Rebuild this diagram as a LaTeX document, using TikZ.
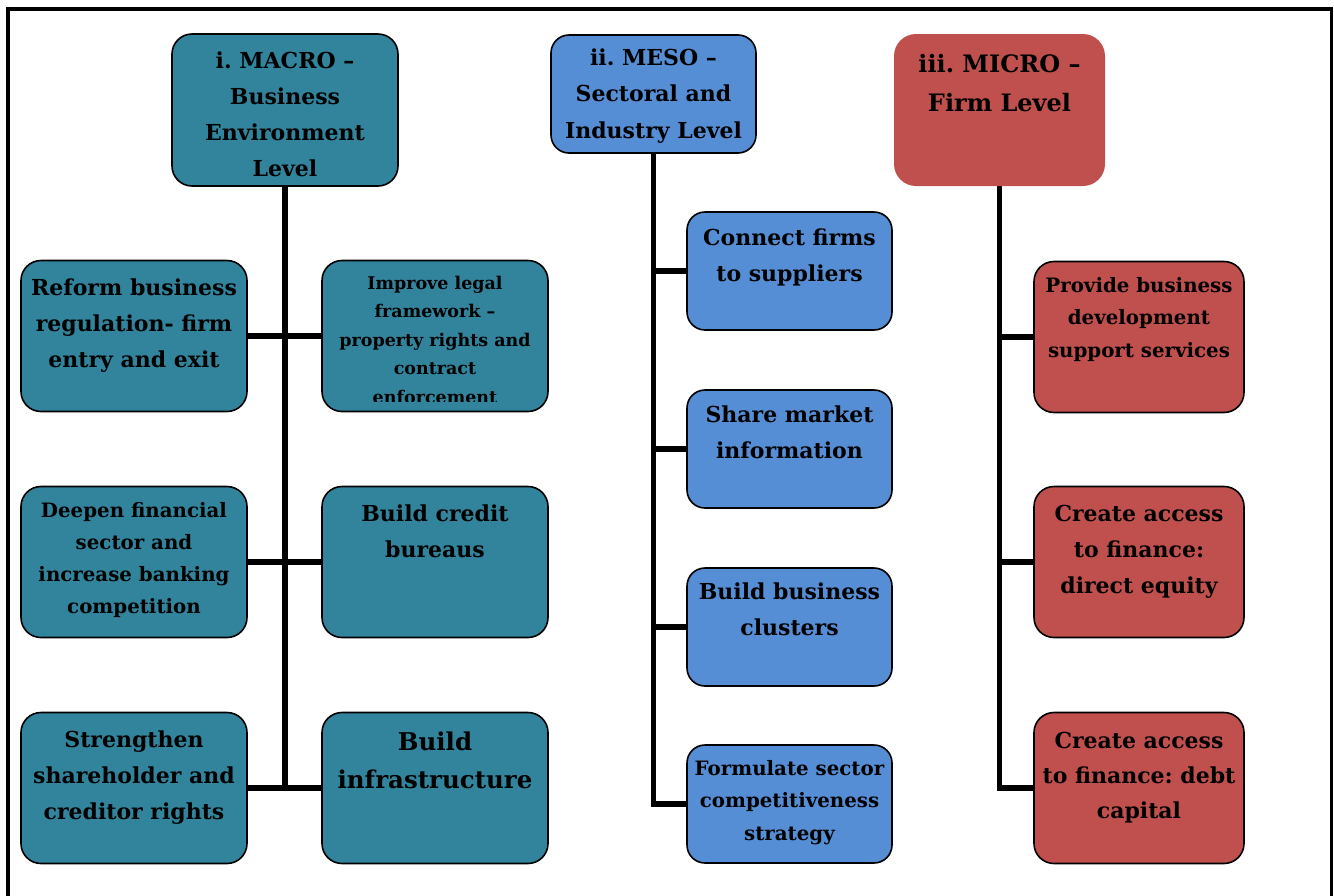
\documentclass[tikz,border=0pt]{standalone}
\usepackage{fontspec}
\setmainfont{DejaVu Serif}
\usetikzlibrary{backgrounds}
\definecolor{cteal}{HTML}{31849B}
\definecolor{cblue}{HTML}{558ED5}
\definecolor{cred}{HTML}{C0504D}
\newcommand\fsz[2]{\fontsize{#1}{#2}\selectfont\bfseries}
\newcommand\btext[7]{\node[txt] (#1) at (#2,#3) {\parbox[t]{#4pt}{\centering\fsz{#5}{#6}#7}};}
\tikzset{
  frame/.style={line width=3.5pt},
  conn/.style={line width=5.5pt, line cap=rect},
  bx/.style={draw=black, line width=1.6pt, rounded corners=20pt, inner sep=0pt},
  tealbox/.style={bx, fill=cteal},
  bluebox/.style={bx, fill=cblue},
  redbox/.style={bx, fill=cred},
  txt/.style={inner sep=0pt, anchor=base, align=center},
}
\begin{document}
\frenchspacing
\begin{tikzpicture}[x=1pt,y=-1pt]
\useasboundingbox (0,0) rectangle (1334,895);
% frame
\draw[frame] (8,900) -- (8,9) -- (1331.5,9) -- (1331.5,900);

% ---------- boxes (shapes) ----------
% macro
\node[tealbox, minimum width=226pt, minimum height=152pt] (mh) at (285,110) {};
\node[tealbox, minimum width=226pt, minimum height=151pt] (m1) at (134,336) {};
\node[tealbox, minimum width=226pt, minimum height=151pt] (m2) at (435,336) {};
\node[tealbox, minimum width=226pt, minimum height=151pt] (m3) at (134,562) {};
\node[tealbox, minimum width=226pt, minimum height=151pt] (m4) at (435,562) {};
\node[tealbox, minimum width=226pt, minimum height=151pt] (m5) at (134,788) {};
\node[tealbox, minimum width=226pt, minimum height=151pt] (m6) at (435,788) {};
% meso
\node[bluebox, rounded corners=18pt, minimum width=205pt, minimum height=118pt] (eh) at (653.5,94) {};
\node[bluebox, rounded corners=18pt, minimum width=205pt, minimum height=118pt] (e1) at (789.5,271) {};
\node[bluebox, rounded corners=18pt, minimum width=205pt, minimum height=118pt] (e2) at (789.5,449) {};
\node[bluebox, rounded corners=18pt, minimum width=205pt, minimum height=118pt] (e3) at (789.5,627) {};
\node[bluebox, rounded corners=18pt, minimum width=205pt, minimum height=118pt] (e4) at (789.5,804) {};
% micro
\node[fill=cred, rounded corners=22pt, inner sep=0pt, minimum width=211pt, minimum height=152pt] (ih) at (999.5,110) {};
\node[redbox, minimum width=210pt, minimum height=151pt] (i1) at (1139,337) {};
\node[redbox, minimum width=210pt, minimum height=151pt] (i2) at (1139,562) {};
\node[redbox, minimum width=210pt, minimum height=151pt] (i3) at (1139,788) {};

% ---------- connectors (behind boxes) ----------
\begin{pgfonlayer}{background}
\coordinate (mstem) at (mh.south |- m5.east);
\draw[conn] (mh.south) -- (mstem);
\draw[conn] (m1.east) -- (m2.west);
\draw[conn] (m3.east) -- (m4.west);
\draw[conn] (m5.east) -- (m6.west);
\draw[conn, line cap=butt] (eh.south) |- (e4.west);
\draw[conn] (eh.south |- e1.west) -- (e1.west);
\draw[conn] (eh.south |- e2.west) -- (e2.west);
\draw[conn] (eh.south |- e3.west) -- (e3.west);
\draw[conn, line cap=butt] (ih.south) |- (i3.west);
\draw[conn] (ih.south |- i1.west) -- (i1.west);
\draw[conn] (ih.south |- i2.west) -- (i2.west);
\end{pgfonlayer}

% ---------- texts ----------
\btext{mht}{285}{68}{220}{22}{36}{i. MACRO --\\Business\\Environment\\Level}
\btext{m1t}{134}{295}{222}{22}{36}{Reform business\\regulation- firm\\entry and exit}
\begin{scope}
\clip (322,250) rectangle (548,401);
\btext{m2t}{435}{289}{222}{17.5}{28.5}{Improve legal\\framework --\\property rights and\\contract\\enforcement}
\end{scope}
\btext{m3t}{134}{517}{222}{19.8}{32.3}{Deepen financial\\sector and\\increase banking\\competition}
\btext{m4t}{435}{521}{222}{22}{36}{Build credit\\bureaus}
\btext{m5t}{134}{747}{222}{22}{36}{Strengthen\\shareholder and\\creditor rights}
\btext{m6t}{435}{750}{222}{24.5}{38}{Build\\infrastructure}
\btext{eht}{653.5}{65}{203}{22}{36.5}{ii. MESO --\\Sectoral and\\Industry Level}
\btext{e1t}{789.5}{245}{203}{22}{36}{Connect firms\\to suppliers}
\btext{e2t}{789.5}{422}{203}{22}{36}{Share market\\information}
\btext{e3t}{789.5}{599}{203}{22}{36}{Build business\\clusters}
\btext{e4t}{789.5}{775}{203}{19.8}{32.5}{Formulate sector\\competitiveness\\strategy}
\btext{iht}{999.5}{72}{209}{24}{39}{iii. MICRO --\\Firm Level}
\btext{i1t}{1139}{292}{208}{19.8}{32.5}{Provide business\\development\\support services}
\btext{i2t}{1139}{521}{208}{22}{36}{Create access\\to finance:\\direct equity}
\btext{i3t}{1139}{748}{208}{22}{35}{Create access\\to finance: debt\\capital}
\end{tikzpicture}
\end{document}
